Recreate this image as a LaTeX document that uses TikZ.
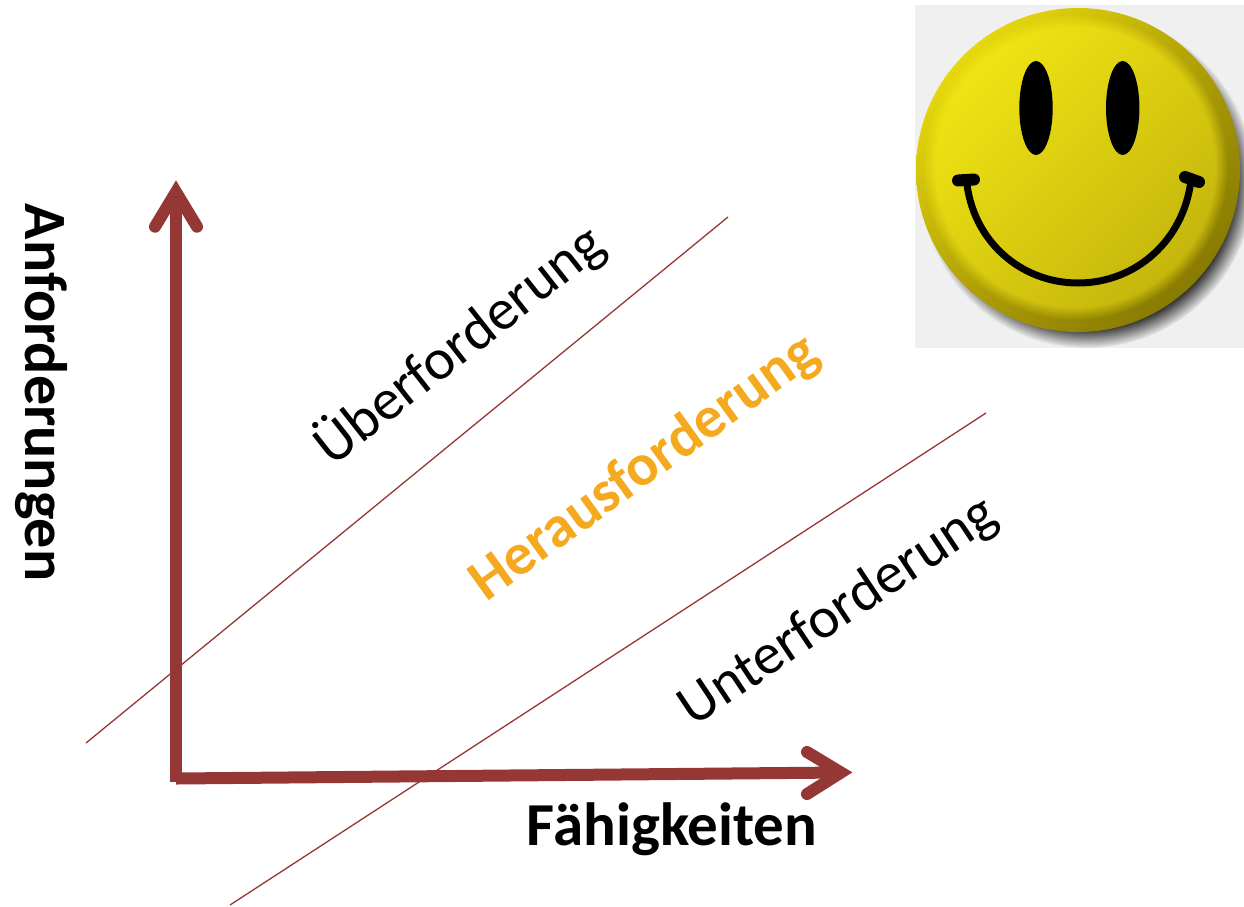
\documentclass[tikz,border=0pt]{standalone}
\usepackage{fontspec}
\setmainfont{Carlito}
\usetikzlibrary{fadings,shadings}
\definecolor{axisred}{HTML}{953735}
\definecolor{herausorange}{HTML}{F4A91E}
\definecolor{rimlight}{HTML}{FBEF10}
\definecolor{rimmid}{HTML}{B0A006}
\definecolor{rimdark}{HTML}{766A00}
\definecolor{facelight}{HTML}{F2E714}
\definecolor{facemid}{HTML}{DCCF0E}
\definecolor{facedark}{HTML}{C2B30C}
\pgfdeclareradialshading{softrim}{\pgfpointorigin}{color(0bp)=(pgftransparent!0); color(21.5bp)=(pgftransparent!0); color(23.5bp)=(pgftransparent!100); color(50bp)=(pgftransparent!100)}
\pgfdeclarefading{softface}{\pgfuseshading{softrim}}
\pgfdeclareradialshading{softshadow}{\pgfpointorigin}{color(0bp)=(pgftransparent!0); color(22bp)=(pgftransparent!0); color(25bp)=(pgftransparent!100); color(50bp)=(pgftransparent!100)}
\pgfdeclarefading{softdrop}{\pgfuseshading{softshadow}}
\tikzset{
 x=1pt,y=-1pt,
 axisline/.style={line width=12pt,draw=axisred},
 axishead/.style={line width=12pt,draw=axisred,line cap=round,line join=miter,miter limit=20},
 thinline/.style={line width=1.3pt,draw=axisred},
 zonelabel/.style={inner sep=0pt,anchor=base,font=\fontsize{58}{58}\selectfont},
 axislabel/.style={inner sep=0pt,anchor=base,font=\fontsize{60}{60}\selectfont\bfseries},
 eye/.style={fill=black},
 mouthline/.style={draw=black,line width=7pt,line cap=round},
 mouthend/.style={draw=black,line width=12pt,line cap=round}
}
\begin{document}
\begin{tikzpicture}
\useasboundingbox (0,0) rectangle (1244,906);
% smiley background
\fill[black!6] (915,5) rectangle (1244,348);
% drop shadow
\fill[black!80,path fading=softdrop] (1087,181) circle [radius=167];
% button rim and face
\shade[lower left=rimmid,upper left=rimlight,upper right=rimmid,lower right=rimdark] (1078,170) circle [radius=162];
\shade[left color=facelight,middle color=facemid,right color=facedark,shading angle=45,path fading=softface] (1075,167) circle [radius=162];
% eyes
\fill[eye] (1036,108) ellipse [x radius=16.7,y radius=47];
\fill[eye] (1122.7,108) ellipse [x radius=16.7,y radius=47];
% mouth
\coordinate (ml) at (966.5,180);
\coordinate (mb) at (1078,283);
\coordinate (mr) at (1191,180);
\draw[mouthline] (ml) .. controls (972,240) and (1020,283) .. (mb) .. controls (1136,283) and (1184,240) .. (mr);
\draw[mouthend] (958,180.5) -- (974,179.5);
\draw[mouthend] (1185,177) -- (1199,182);
% thin lines
\coordinate (ua) at (86,743); \coordinate (ub) at (728,217);
\coordinate (la) at (230,905); \coordinate (lb) at (986,413);
\draw[thinline] (ua) -- (ub);
\draw[thinline] (la) -- (lb);
% axes
\coordinate (vbase) at (176,781.5); \coordinate (vtip) at (176,192);
\coordinate (hbase) at (176,778.5); \coordinate (htip) at (841,772.5);
\draw[axisline] (vbase) -- (vtip);
\draw[axisline] (hbase) -- (htip);
\draw[axishead] (155,226.7) -- (vtip) -- (197,226.7);
\draw[axishead] (807,752) -- (htip) -- (807,794);
% labels
\node[axislabel,rotate=-90] (anf) at (25,392.5) {Anforderungen};
\node[axislabel,font=\fontsize{61}{61}\selectfont\bfseries] (fae) at (672,845) {Fähigkeiten};
\node[zonelabel,rotate=38.2] (ueb) at (470,359) {Überforderung};
\node[zonelabel,rotate=35.8,text=herausorange,font=\fontsize{59}{59}\selectfont\bfseries] (her) at (654,481) {Herausforderung};
\node[zonelabel,rotate=33.7] (unt) at (847,625) {Unterforderung};
\end{tikzpicture}
\end{document}
